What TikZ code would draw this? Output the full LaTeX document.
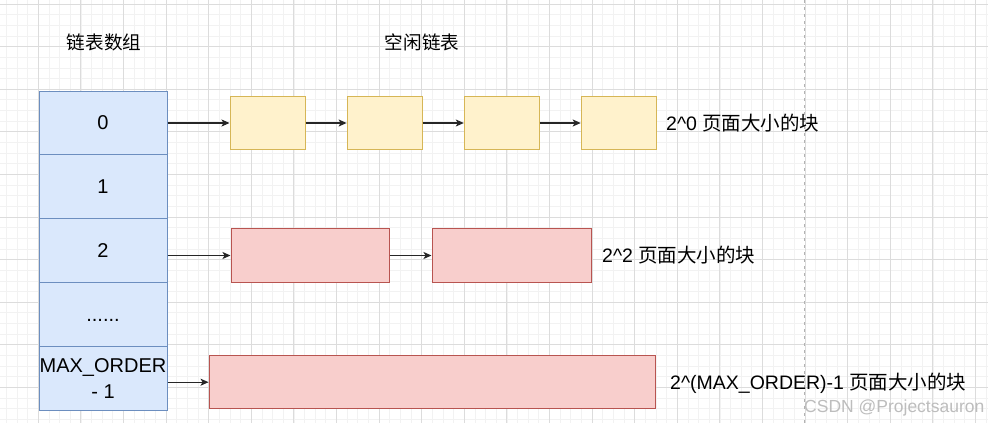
\documentclass[tikz,border=0pt]{standalone}
\usepackage{fontspec}
\setmainfont{Liberation Sans}
\newfontfamily\cjk{Noto Sans CJK SC}
\usetikzlibrary{arrows.meta}
\definecolor{gridminor}{HTML}{F2F2F2}
\definecolor{gridmajor}{HTML}{DCDCDC}
\definecolor{bluefill}{HTML}{DAE8FC}
\definecolor{bluedraw}{HTML}{6C8EBF}
\definecolor{yelfill}{HTML}{FFF2CC}
\definecolor{yeldraw}{HTML}{D6B656}
\definecolor{redfill}{HTML}{F8CECC}
\definecolor{reddraw}{HTML}{B85450}
\definecolor{wmark}{HTML}{BDBDBD}
\tikzset{
  minorline/.style={gridminor, line width=0.8pt},
  majorline/.style={gridmajor, line width=0.9pt},
  cellbox/.style={draw=bluedraw, fill=bluefill, line width=1pt, minimum width=128pt, minimum height=63.8pt, inner sep=0pt, font=\fontsize{20}{26}\selectfont, align=center},
  yelbox/.style={draw=yeldraw, fill=yelfill, line width=1pt, minimum width=75pt, minimum height=53.5pt, inner sep=0pt},
  redbox/.style={draw=reddraw, fill=redfill, line width=1pt, minimum height=53.5pt, inner sep=0pt},
  lbl/.style={font=\fontsize{19.5}{24}\selectfont, inner sep=0pt, anchor=west},
  ttl/.style={font=\cjk\fontsize{18.6}{22}\selectfont, inner sep=0pt},
  link/.style={-{Stealth[length=8pt,width=7pt,inset=2pt]}, line width=1.1pt, black!85}
}
\begin{document}
\begin{tikzpicture}[x=1pt,y=-1pt]
\useasboundingbox (0,0) rectangle (988,423);
\fill[white] (0,0) rectangle (988,423);
% grid
\foreach \i in {-3,...,89} \draw[minorline] (38.3+10.65*\i,0) -- (38.3+10.65*\i,423);
\foreach \i in {0,...,39} \draw[minorline] (0,4+10.65*\i) -- (988,4+10.65*\i);
\foreach \i in {0,...,22} \draw[majorline] (38.3+42.6*\i,0) -- (38.3+42.6*\i,423);
\foreach \i in {0,...,9} \draw[majorline] (0,4+42.6*\i) -- (988,4+42.6*\i);
\draw[black!30, line width=1pt, dash pattern=on 3pt off 4pt] (804.5,0) -- (804.5,423);
% titles
\node[ttl] (t1) at (104,42) {链表数组};
\node[ttl] (t2) at (422,42) {空闲链表};
% array cells
\node[cellbox] (c0) at (103,122.9) {0};
\node[cellbox] (c1) at (103,186.7) {1};
\node[cellbox] (c2) at (103,250.5) {2};
\node[cellbox] (c3) at (103,314.3) {\vphantom{0}......};
\node[cellbox] (c4) at (103,378.1) {MAX\_ORDER\\- 1};
% yellow chain
\node[yelbox] (y1) at (267.5,123) {};
\node[yelbox] (y2) at (384.6,123) {};
\node[yelbox] (y3) at (501.8,123) {};
\node[yelbox] (y4) at (618.7,123) {};
\node[lbl] (l0) at (666,123) {2\textasciicircum 0 {\cjk 页面大小的块}};
% red chain 2
\node[redbox, minimum width=158pt] (r1) at (310,255.5) {};
\node[redbox, minimum width=159pt] (r2) at (511.5,255.5) {};
\node[lbl] (l2) at (602,255.5) {2\textasciicircum 2 {\cjk 页面大小的块}};
% big red
\node[redbox, minimum width=446.5pt] (r3) at (432.3,382.2) {};
\node[lbl] (l3) at (670,383) {2\textasciicircum (MAX\_ORDER)-1 {\cjk 页面大小的块}};
% arrows
\draw[link] (c0.east |- y1.west) -- (y1.west);
\draw[link] (y1.east) -- (y2.west);
\draw[link] (y2.east) -- (y3.west);
\draw[link] (y3.east) -- (y4.west);
\draw[link] (c2.east |- r1.west) -- (r1.west);
\draw[link] (r1.east) -- (r2.west);
\draw[link] (c4.east |- r3.west) -- (r3.west);
% watermark
\node[font=\fontsize{17.5}{20}\selectfont, text=wmark, inner sep=0pt, anchor=base west] (wm) at (804,412) {CSDN @Projectsauron};
\end{tikzpicture}
\end{document}
